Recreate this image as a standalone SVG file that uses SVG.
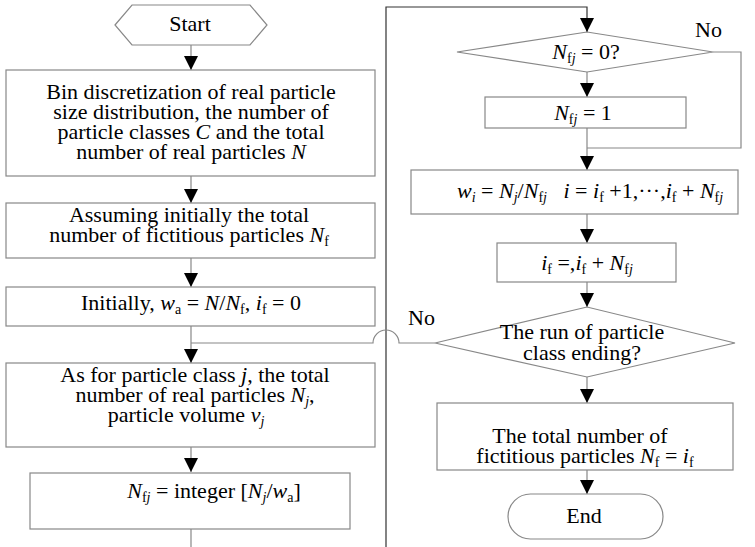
<svg xmlns="http://www.w3.org/2000/svg" width="755" height="547" viewBox="0 0 755 547">
<style>
.box{fill:#fff;stroke:#888;stroke-width:1.2}
.ln{fill:none;stroke:#888;stroke-width:1.2}
.dk{fill:none;stroke:#333;stroke-width:1.2}
text{font-family:"Liberation Serif","Times New Roman",serif;font-size:22px;fill:#000}
.c{text-anchor:middle}
.i{font-style:italic}
.s{font-size:14px}
</style>
<defs>
<marker id="ar" markerUnits="userSpaceOnUse" markerWidth="14" markerHeight="14" refX="14" refY="7" orient="auto">
<path d="M0,0 L14,7 L0,14 z" fill="#000"/>
</marker>
</defs>
<rect width="755" height="547" fill="#fff"/>
<g id="connectors">
<path class="ln" d="M191,45 V70" marker-end="url(#ar)"/>
<path class="ln" d="M191,176 V203" marker-end="url(#ar)"/>
<path class="ln" d="M191,258 V287" marker-end="url(#ar)"/>
<path class="ln" d="M191,326 V363" marker-end="url(#ar)"/>
<path class="ln" d="M191,447 V472" marker-end="url(#ar)"/>
<path class="ln" d="M191,529 V547"/>
<path class="dk" d="M386,547 V7 H587 V32" marker-end="url(#ar)"/>
<path class="ln" d="M587,72 V97" marker-end="url(#ar)"/>
<path class="ln" d="M587,128 V170" marker-end="url(#ar)"/>
<path class="ln" d="M713,52 H741 V148 H587"/>
<path class="ln" d="M587,214 V243" marker-end="url(#ar)"/>
<path class="ln" d="M587,282 V307" marker-end="url(#ar)"/>
<path class="ln" d="M587,377 V403" marker-end="url(#ar)"/>
<path class="ln" d="M587,470 V494" marker-end="url(#ar)"/>
<path class="ln" d="M435,343 H399 A13,13 0 0 0 373,343 H191"/>
<text x="695" y="37">No</text>
<text x="408" y="325">No</text>
</g>
<g id="start">
<polygon class="box" points="115,25 132,5 250,5 267,25 250,45 132,45"/>
<text class="c" x="190" y="31">Start</text>
</g>
<g id="bin">
<rect class="box" x="6" y="70" width="369" height="106"/>
<text class="c" x="191" y="99">Bin discretization of real particle</text>
<text class="c" x="191" y="119">size distribution, the number of</text>
<text class="c" x="191" y="139">particle classes <tspan class="i">C</tspan> and the total</text>
<text class="c" x="191" y="159">number of real particles <tspan class="i">N</tspan></text>
</g>
<g id="assume">
<rect class="box" x="6" y="203" width="369" height="55"/>
<text class="c" x="189" y="222">Assuming initially the total</text>
<text class="c" x="189" y="242">number of fictitious particles <tspan class="i">N</tspan><tspan class="s" dy="4">f</tspan></text>
</g>
<g id="init">
<rect class="box" x="6" y="287" width="369" height="39"/>
<text class="c" x="191" y="310">Initially, <tspan class="i">w</tspan><tspan class="s" dy="4">a</tspan><tspan dy="-4"> = </tspan><tspan class="i">N</tspan>/<tspan class="i">N</tspan><tspan class="s" dy="4">f</tspan><tspan dy="-4">, </tspan><tspan class="i">i</tspan><tspan class="s" dy="4">f</tspan><tspan dy="-4"> = 0</tspan></text>
</g>
<g id="classj">
<rect class="box" x="6" y="363" width="369" height="84"/>
<text class="c" x="195" y="382">As for particle class <tspan class="i">j</tspan>, the total</text>
<text class="c" x="195" y="402">number of real particles <tspan class="i">N</tspan><tspan class="s i" dy="4">j</tspan><tspan dy="-4">,</tspan></text>
<text class="c" x="186" y="422">particle volume <tspan class="i">v</tspan><tspan class="s i" dy="4">j</tspan></text>
</g>
<g id="nfj">
<rect class="box" x="30" y="473" width="320" height="56"/>
<text class="c" x="214" y="498"><tspan class="i">N</tspan><tspan class="s" dy="4">f<tspan class="i">j</tspan></tspan><tspan dy="-4"> = integer [</tspan><tspan class="i">N</tspan><tspan class="s i" dy="4">j</tspan><tspan dy="-4">/</tspan><tspan class="i">w</tspan><tspan class="s" dy="4">a</tspan><tspan dy="-4">]</tspan></text>
</g>
<g id="dec1">
<polygon class="box" points="457,52 587,32 713,52 587,72"/>
<text class="c" x="586" y="59"><tspan class="i">N</tspan><tspan class="s" dy="4">f<tspan class="i">j</tspan></tspan><tspan dy="-4"> = 0?</tspan></text>
</g>
<g id="set1">
<rect class="box" x="485" y="97" width="201" height="31"/>
<text class="c" x="583" y="120"><tspan class="i">N</tspan><tspan class="s" dy="4">f<tspan class="i">j</tspan></tspan><tspan dy="-4"> = 1</tspan></text>
</g>
<g id="wi">
<rect class="box" x="411" y="170" width="327" height="44"/>
<text x="457" y="198"><tspan class="i">w</tspan><tspan class="s i" dy="4">i</tspan><tspan dy="-4"> = </tspan><tspan class="i">N</tspan><tspan class="s i" dy="4">j</tspan><tspan dy="-4">/</tspan><tspan class="i">N</tspan><tspan class="s" dy="4">f<tspan class="i">j</tspan></tspan><tspan dy="-4" xml:space="preserve">   </tspan><tspan class="i">i</tspan> = <tspan class="i">i</tspan><tspan class="s" dy="4">f</tspan><tspan dy="-4"> +1,···,</tspan><tspan class="i">i</tspan><tspan class="s" dy="4">f</tspan><tspan dy="-4"> + </tspan><tspan class="i">N</tspan><tspan class="s" dy="4">f<tspan class="i">j</tspan></tspan></text>
</g>
<g id="ifupd">
<rect class="box" x="497" y="243" width="179" height="39"/>
<text class="c" x="587" y="270"><tspan class="i">i</tspan><tspan class="s" dy="4">f</tspan><tspan dy="-4"> =,</tspan><tspan class="i">i</tspan><tspan class="s" dy="4">f</tspan><tspan dy="-4"> + </tspan><tspan class="i">N</tspan><tspan class="s" dy="4">f<tspan class="i">j</tspan></tspan></text>
</g>
<g id="dec2">
<polygon class="box" points="435,343 587,307 735,343 587,377"/>
<text class="c" x="582" y="339">The run of particle</text>
<text class="c" x="582" y="360">class ending?</text>
</g>
<g id="total">
<rect class="box" x="437" y="403" width="296" height="67"/>
<text class="c" x="580" y="443">The total number of</text>
<text class="c" x="585" y="463">fictitious particles <tspan class="i">N</tspan><tspan class="s" dy="4">f</tspan><tspan dy="-4"> = </tspan><tspan class="i">i</tspan><tspan class="s" dy="4">f</tspan></text>
</g>
<g id="end">
<rect class="box" x="508" y="494" width="155" height="45" rx="22.5" ry="22.5"/>
<text class="c" x="584" y="523">End</text>
</g>
</svg>
